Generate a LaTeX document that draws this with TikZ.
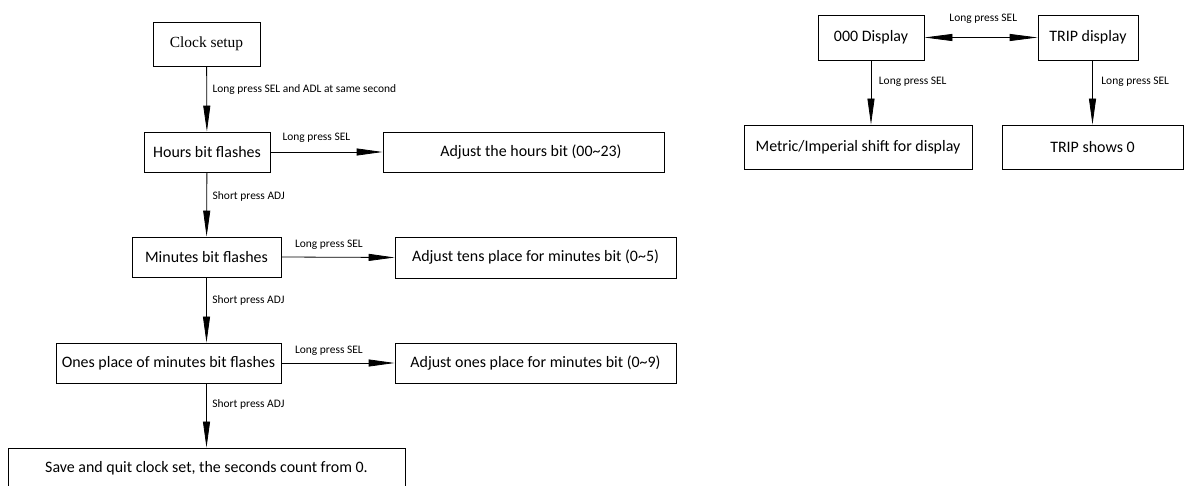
\documentclass[tikz,border=0pt]{standalone}
\usepackage{fontspec}
\setmainfont{Carlito}
\newfontfamily\clockfont{Liberation Serif}
\usetikzlibrary{arrows.meta}

\begin{document}
\begin{tikzpicture}[x=1bp,y=-1bp,
  box/.style={draw,line width=0.8bp,inner sep=0pt,font=\fontsize{16}{18}\selectfont},
  lbl/.style={inner sep=0.5bp,font=\fontsize{11.5}{13}\selectfont},
  arr/.style={line width=0.8bp,-{Triangle[length=26bp,width=7bp]}}]
\useasboundingbox (0,0) rectangle (1185,486);
\node[box,minimum width=107bp,minimum height=44bp,font=\clockfont\fontsize{15.5}{17}\selectfont] (clock) at (206.5,44) {Clock setup};
\node[box,minimum width=126bp,minimum height=40bp] (hours) at (207,152) {Hours bit flashes};
\node[box,minimum width=281bp,minimum height=40bp] (adjh) at (523.5,152) {\hspace*{15bp}Adjust the hours bit (00\textasciitilde23)};
\node[box,minimum width=149bp,minimum height=40bp] (minutes) at (206.5,257) {Minutes bit flashes};
\node[box,minimum width=281bp,minimum height=41bp] (adjt) at (535.5,257.5) {Adjust tens place for minutes bit (0\textasciitilde5)};
\node[box,minimum width=225bp,minimum height=40bp] (ones) at (168.5,363) {Ones place of minutes bit flashes};
\node[box,minimum width=281bp,minimum height=40bp] (adjo) at (535.5,363) {Adjust ones place for minutes bit (0\textasciitilde9)};
\node[box,minimum width=397bp,minimum height=40bp] (save) at (206.5,468) {Save and quit clock set, the seconds count from 0.};
\node[box,minimum width=106bp,minimum height=45bp] (odo) at (871,37.5) {000 Display};
\node[box,minimum width=100bp,minimum height=45bp] (trip) at (1088,37.5) {TRIP display};
\node[box,minimum width=228bp,minimum height=44bp] (metric) at (858,147) {Metric/Imperial shift for display};
\node[box,minimum width=181bp,minimum height=44bp] (tripz) at (1092.5,147) {TRIP shows 0};

\draw[arr] (clock) -- node[lbl,right=5bp,pos=0.35] (l1) {Long press SEL and ADL at same second} (hours);
\draw[arr] (hours.east) -- node[lbl,above=9bp,pos=0.41] (l2) {Long press SEL} (adjh.west);
\draw[arr] (hours) -- node[lbl,right=5bp,pos=0.38] (l3) {Short press ADJ} (minutes);
\draw[arr] (minutes.east) -- node[lbl,above=7bp,pos=0.42] (l4) {Long press SEL} (adjt.west);
\draw[arr] (minutes.south) -- node[lbl,right=5bp,pos=0.35] (l5) {Short press ADJ} (minutes.south |- ones.north);
\draw[arr] (ones.east) -- node[lbl,above=7bp,pos=0.42] (l6) {Long press SEL} (adjo.west);
\draw[arr] (save.north |- ones.south) -- node[lbl,right=5bp,pos=0.33] (l7) {Short press ADJ} (save.north);
\draw[line width=0.8bp,{Triangle[length=28bp,width=7bp]}-{Triangle[length=28bp,width=7bp]}] (odo.east) -- node[lbl,above=13bp,pos=0.52] (l8) {Long press SEL} (trip.west);
\draw[arr] (odo.south) -- node[lbl,right=7bp,pos=0.34] (l9) {Long press SEL} (odo.south |- metric.north);
\draw[arr] (tripz.north |- trip.south) -- node[lbl,right=8bp,pos=0.34] (l10) {Long press SEL} (tripz.north);
\end{tikzpicture}
\end{document}
